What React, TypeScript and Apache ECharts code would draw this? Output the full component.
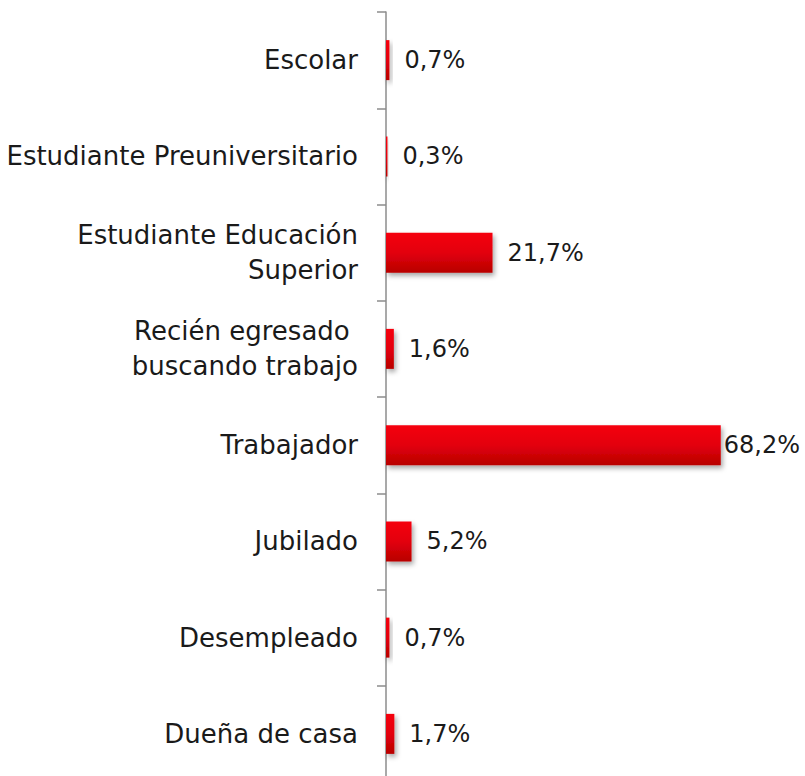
import React, { useEffect, useRef } from "react";
import * as echarts from "echarts";

const categories = [
  "Escolar",
  "Estudiante Preuniversitario",
  "Estudiante Educación\nSuperior",
  "Recién egresado \nbuscando trabajo",
  "Trabajador",
  "Jubilado",
  "Desempleado",
  "Dueña de casa",
];
const values = [0.7, 0.3, 21.7, 1.6, 68.2, 5.2, 0.7, 1.7];
const valueLabels = ["0,7%", "0,3%", "21,7%", "1,6%", "68,2%", "5,2%", "0,7%", "1,7%"];

const FONT = "'DejaVu Sans', sans-serif";

export default function App() {
  const ref = useRef<HTMLDivElement>(null);
  useEffect(() => {
    document.body.style.margin = "0";
    const chart = echarts.init(ref.current!, null, { renderer: "svg" });
    chart.setOption({
      animation: false,
      backgroundColor: "#ffffff",
      grid: {
        left: 386,
        top: 12,
        width: 343.6,
        height: 770,
        containLabel: false,
        outerBoundsMode: "none",
      },
      xAxis: {
        type: "value",
        min: 0,
        max: 70,
        show: false,
      },
      yAxis: {
        type: "category",
        data: categories,
        inverse: true,
        axisLine: { show: true, lineStyle: { color: "#8c8c8c", width: 1.5 } },
        axisTick: { show: true, length: 9, lineStyle: { color: "#8c8c8c", width: 1.5 } },
        axisLabel: {
          margin: 28,
          color: "#1a1a1a",
          fontFamily: FONT,
          fontSize: 26,
          lineHeight: 35,
          align: "right",
        },
        splitLine: { show: false },
      },
      series: [
        {
          type: "bar",
          data: values.map((v, i) => ({
            value: v,
            label: {
              distance: i === 4 ? 3 : 15,
              formatter: valueLabels[i],
            },
          })),
          barWidth: 40,
          itemStyle: {
            color: new echarts.graphic.LinearGradient(0, 0, 0, 1, [
              { offset: 0, color: "#f5000e" },
              { offset: 0.5, color: "#e3000c" },
              { offset: 1, color: "#b80000" },
            ]),
            shadowColor: "rgba(0,0,0,0.35)",
            shadowBlur: 5,
            shadowOffsetX: 2,
            shadowOffsetY: 3,
          },
          label: {
            show: true,
            position: "right",
            color: "#1a1a1a",
            fontFamily: FONT,
            fontSize: 24,
          },
        },
      ],
    });
    return () => chart.dispose();
  }, []);
  return <div ref={ref} style={{ width: 805, height: 776 }} />;
}
